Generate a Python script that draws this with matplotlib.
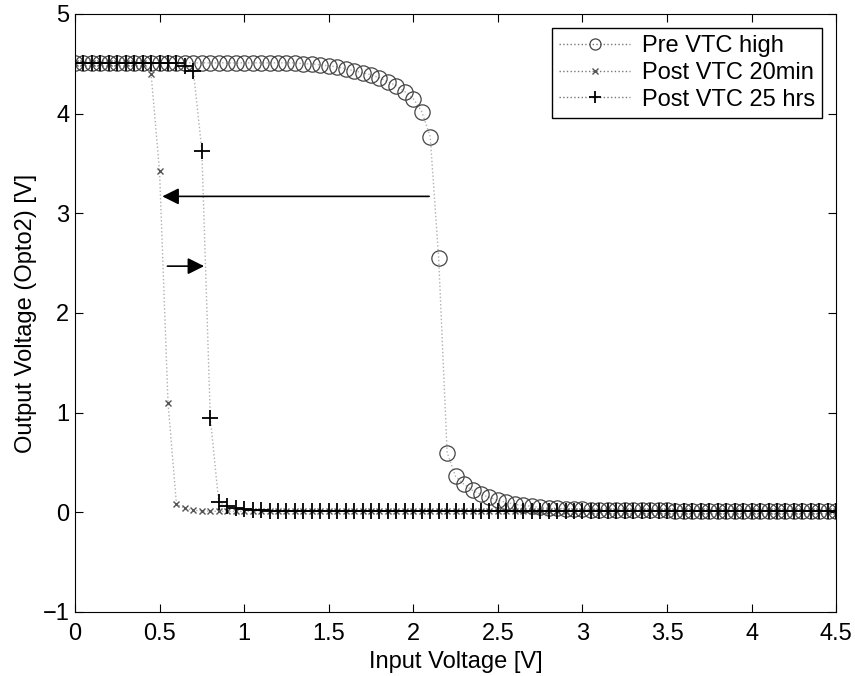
import numpy as np
import matplotlib.pyplot as plt

plt.rcParams['font.family'] = ['Liberation Sans', 'DejaVu Sans']

# input sweep, 0 to 4.5 V in 0.05 V steps
vin = np.round(np.arange(0, 4.5001, 0.05), 2)

pre_high = [4.51] * 27 + [
    4.50, 4.50, 4.49, 4.48, 4.47, 4.45, 4.43, 4.41, 4.39, 4.36,
    4.32, 4.28, 4.22, 4.15, 4.02, 3.77, 2.55, 0.60, 0.36, 0.28,
    0.22, 0.18, 0.15, 0.12, 0.10, 0.08, 0.07, 0.06, 0.05, 0.045,
    0.04, 0.035, 0.03, 0.03, 0.025, 0.025,
    0.02, 0.02, 0.02, 0.02, 0.02, 0.02, 0.02, 0.02] + [0.015] * 20

post_20min = [4.51] * 9 + [4.40, 3.42, 1.10, 0.08, 0.04, 0.02, 0.015] + [0.01] * 75

post_25hrs = [4.51] * 13 + [4.48, 4.43, 3.63, 0.95, 0.10, 0.06, 0.04, 0.03,
                            0.025, 0.02] + [0.015] * 68

fig = plt.figure(figsize=(8.55, 6.76), dpi=100)
ax = fig.add_axes([0.0877, 0.0947, 0.8903, 0.8846])

ax.plot(vin, pre_high, ':', color='#b0b0b0', lw=1, marker='o', ms=11,
        mfc='none', mec='#444444', mew=0.9, label='Pre VTC high')
ax.plot(vin, post_20min, ':', color='#b0b0b0', lw=1, marker='x', ms=5,
        mec='#555555', mew=1, label='Post VTC 20min')
ax.plot(vin, post_25hrs, ':', color='#b0b0b0', lw=1, marker='+', ms=12,
        mec='black', mew=1.3, label='Post VTC 25 hrs')

# shift arrows
ax.annotate('', xy=(0.50, 3.17), xytext=(2.11, 3.17),
            arrowprops=dict(arrowstyle='-|>', color='black', lw=1.2, mutation_scale=25))
ax.annotate('', xy=(0.78, 2.47), xytext=(0.53, 2.47),
            arrowprops=dict(arrowstyle='-|>', color='black', lw=1.2, mutation_scale=25))

ax.set_xlim(0, 4.5)
ax.set_ylim(-1, 5)
ax.set_xticks([0, 0.5, 1, 1.5, 2, 2.5, 3, 3.5, 4, 4.5])
ax.set_xticklabels(['0', '0.5', '1', '1.5', '2', '2.5', '3', '3.5', '4', '4.5'])
ax.set_yticks([-1, 0, 1, 2, 3, 4, 5])
ax.tick_params(direction='in', top=True, right=True, length=6, labelsize=17)
ax.tick_params(axis='x', pad=8)
ax.tick_params(axis='y', pad=4)
ax.set_xlabel('Input Voltage [V]', fontsize=17, labelpad=4)
ax.set_ylabel('Output Voltage (Opto2) [V]', fontsize=17, labelpad=4)

leg = ax.legend(loc='upper right', fontsize=17, fancybox=False, framealpha=1,
                edgecolor='black', handlelength=3, borderaxespad=0.6,
                labelspacing=0.2, handletextpad=0.5, borderpad=0.3)
leg.get_frame().set_linewidth(1)
for h, s in zip(leg.legend_handles, [8, 4, 9]):
    h.set_markersize(s)
    h.set_color('#777777')

fig.savefig('out.png', dpi=100)
